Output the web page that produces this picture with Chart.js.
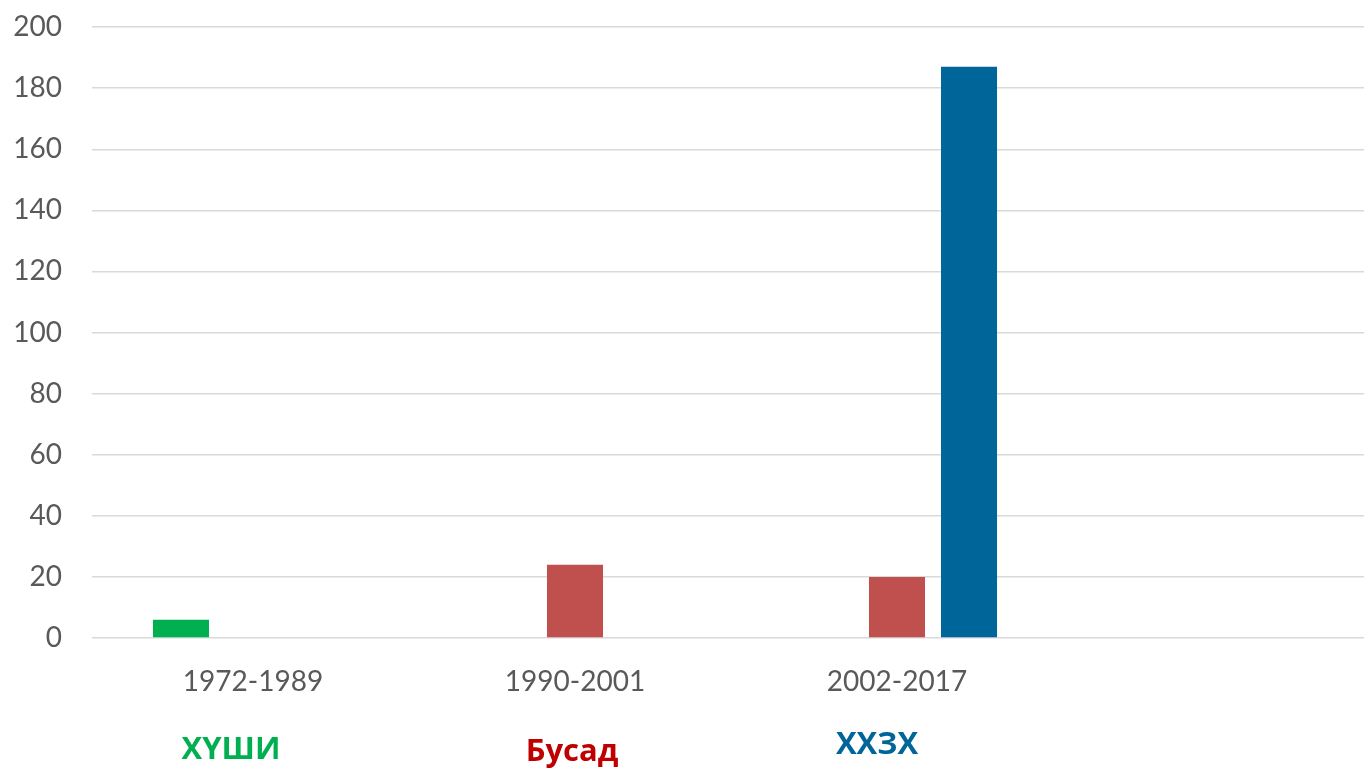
<!DOCTYPE html>
<html>
<head>
<meta charset="utf-8">
<script src="https://cdn.jsdelivr.net/npm/chart.js@4"></script>
<style>
  html, body { margin: 0; padding: 0; background: #fff; overflow: hidden; }
  #wrap { width: 1364px; height: 769px; overflow: hidden; position: relative; }
</style>
</head>
<body>
<div id="wrap"><canvas id="chart" width="1380" height="769"></canvas></div>
<script>
const periods = ['1972-1989', '1990-2001', '2002-2017', ''];
const huvshiValues = [6, null, null, null];
const busadValues = [null, 24, 20, null];
const hhzhValues = [null, null, 187, null];
const yTicks = [0, 20, 40, 60, 80, 100, 120, 140, 160, 180, 200];

// text labels placed under the categories instead of a legend
const seriesLabels = {
    id: 'seriesLabels',
    afterDraw(chart) {
        const ctx = chart.ctx;
        const x = chart.scales.x;
        const spots = [[0, -22, 750], [1, -3, 752], [2, -20, 745]];
        ctx.save();
        ctx.font = 'bold 31px "Open Sans"';
        ctx.textAlign = 'center';
        ctx.textBaseline = 'middle';
        chart.data.datasets.forEach((ds, i) => {
            const [idx, dx, y] = spots[i];
            ctx.fillStyle = ds.textColor;
            ctx.fillText(ds.label, x.getPixelForValue(idx) + dx, y);
        });
        ctx.restore();
    }
};

function initChart() {
    const ctx = document.getElementById('chart').getContext('2d');
    new Chart(ctx, {
        type: 'bar',
        data: {
            labels: periods,
            datasets: [
                { label: 'ХҮШИ', data: huvshiValues, backgroundColor: '#00b050', textColor: '#00b050' },
                { label: 'Бусад', data: busadValues, backgroundColor: '#c0504d', textColor: '#c00000' },
                { label: 'ХХЗХ', data: hhzhValues, backgroundColor: '#006699', textColor: '#006699' }
            ]
        },
        options: {
            responsive: false,
            animation: false,
            categoryPercentage: 0.671,
            barPercentage: 0.778,
            layout: { padding: { top: 27, right: 0, bottom: 0, left: 0 } },
            scales: {
                x: {
                    grid: { display: false },
                    border: { display: false },
                    ticks: { color: '#595959', font: { family: 'Lato', size: 28 }, padding: 19, maxRotation: 0 },
                    afterFit: s => { s.height = 131; }
                },
                y: {
                    min: 0, max: 200,
                    afterBuildTicks: s => { s.ticks = yTicks.map(v => ({ value: v })); },
                    grid: { color: '#d9d9d9', lineWidth: 1.4, drawTicks: false },
                    border: { display: false },
                    ticks: { color: '#595959', font: { family: 'Lato', size: 28 }, padding: 30 },
                    afterFit: s => { s.width = 92; s.paddingTop = 0; s.paddingBottom = 0; }
                }
            },
            plugins: { legend: { display: false }, tooltip: { enabled: false } }
        },
        plugins: [seriesLabels]
    });
}

window.onload = initChart;
</script>
</body>
</html>
